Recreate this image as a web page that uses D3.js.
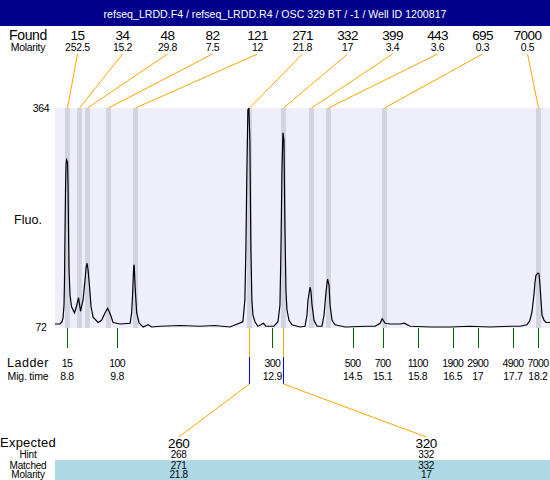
<!DOCTYPE html>
<html>
<head>
<meta charset="utf-8">
<script src="https://cdn.jsdelivr.net/npm/d3@7"></script>
<style>
  body { margin: 0; background: #fff; }
  svg { display: block; font-family: "Liberation Sans", Arial, sans-serif; }
</style>
</head>
<body>
<div id="wrapper"></div>
<script>
const title = "refseq_LRDD.F4 / refseq_LRDD.R4 / OSC 329 BT / -1 / Well ID 1200817";

// found peaks (size, molarity, migration time)
const foundSizes = [15, 34, 48, 82, 121, 271, 332, 399, 443, 695, 7000];
const foundMolarity = [252.5, 15.2, 29.8, 7.5, 12, 21.8, 17, 3.4, 3.6, 0.3, 0.5];
const foundTimes = [8.79, 9.03, 9.19, 9.61, 10.15, 12.43, 13.12, 13.66, 14.0, 15.12, 18.2];

// ladder
const ladderSizes = [15, 100, 300, 500, 700, 1100, 1900, 2900, 4900, 7000];
const ladderTimes = [8.8, 9.8, 12.9, 14.5, 15.1, 15.8, 16.5, 17, 17.7, 18.2];

// expected fragments
const expectedSizes = [260, 320];
const hintSizes = [268, 332];
const matchedSizes = [271, 332];
const matchedMolarity = [21.8, 17];
const matchedTimes = [12.43, 13.12];

// electropherogram trace (migration time s, fluorescence)
const traceTime = [8.56, 8.66, 8.70, 8.72, 8.74, 8.75, 8.76, 8.77, 8.78, 8.79, 8.81, 8.82, 8.83, 8.84, 8.86,
  8.89, 8.95, 8.99, 9.03, 9.07, 9.12, 9.16, 9.18, 9.20, 9.22, 9.25, 9.28, 9.32, 9.42, 9.49, 9.56, 9.61,
  9.67, 9.72, 9.86, 10.06, 10.09, 10.11, 10.13, 10.14, 10.16, 10.19, 10.24, 10.32, 10.42, 10.49, 10.66,
  11.06, 11.45, 11.75, 12.05, 12.31, 12.35, 12.37, 12.39, 12.41, 12.43, 12.45, 12.47, 12.49, 12.51, 12.55,
  12.61, 12.67, 12.72, 12.77, 12.85, 12.93, 13.01, 13.05, 13.07, 13.09, 13.11, 13.13, 13.15, 13.17, 13.19,
  13.23, 13.29, 13.45, 13.55, 13.59, 13.61, 13.65, 13.67, 13.69, 13.73, 13.79, 13.89, 13.93, 13.97, 14.0,
  14.03, 14.05, 14.09, 14.15, 14.35, 14.79, 14.95, 15.05, 15.09, 15.15, 15.25, 15.45, 15.53, 15.65, 16.05,
  16.45, 16.84, 17.24, 17.64, 17.84, 17.98, 18.04, 18.08, 18.12, 18.14, 18.16, 18.2, 18.22, 18.24, 18.26,
  18.28, 18.32, 18.36, 18.44];
const traceFluo = [76, 76, 79, 84, 101, 135, 201, 255, 288, 295, 292, 261, 201, 148, 115,
  99, 91, 100, 111, 93, 108, 135, 151, 157, 148, 125, 99, 85, 78, 81, 91, 97,
  88, 78, 76, 77, 91, 117, 152, 155, 125, 91, 77, 72, 75, 72, 73,
  74, 73, 74, 72, 79, 108, 175, 281, 361, 364, 321, 175, 108, 88, 79,
  73, 75, 77, 73, 73, 73, 79, 101, 175, 281, 331, 321, 201, 120, 95,
  81, 75, 72, 73, 88, 108, 125, 119, 101, 81, 73, 73, 88, 119, 136,
  128, 101, 81, 75, 72, 73, 73, 77, 83, 77, 76, 76, 77, 73, 72,
  72, 73, 72, 73, 73, 75, 81, 92, 115, 131, 141, 144, 143, 128, 108,
  88, 81, 78, 78];

const yTicks = [72, 364];

const width = 550, height = 480;
const plot = { left: 55, right: 550, top: 108, bottom: 328 };

const svg = d3.select("#wrapper").append("svg")
  .attr("width", width)
  .attr("height", height);

// header
svg.append("rect").attr("x", 0).attr("y", 0).attr("width", width).attr("height", 26).attr("fill", "#00008b");
svg.append("text").attr("x", width / 2).attr("y", 17.5).attr("text-anchor", "middle")
  .attr("fill", "#fff").attr("font-size", 10.6).text(title);

// scales
const xScale = d3.scaleLinear().domain([8.56, 18.44]).range([plot.left, plot.right]);
const yScale = d3.scaleLinear().domain([72, 364]).range([327, plot.top]);
const foundScale = d3.scaleBand().domain(d3.range(foundSizes.length)).range([plot.left, plot.right]);
const expScale = d3.scaleBand().domain(d3.range(expectedSizes.length)).range([plot.left, plot.right]);
// pixel-snapped x for vertical 1px lines
const xPix = t => Math.round(xScale(t)) + 0.5;

const labelX = 28;
const leftLabel = (txt, y, size, extra) => {
  const t = svg.append("text").attr("x", labelX).attr("y", y).attr("text-anchor", "middle")
    .attr("font-size", size).attr("fill", "#000").text(txt);
  if (extra) t.attr("letter-spacing", extra);
  return t;
};

// found row
leftLabel("Found", 40, 14, -0.3);
leftLabel("Molarity", 51, 10.5, -0.3);
svg.append("g").selectAll("text").data(foundSizes).join("text")
  .attr("x", (d, i) => foundScale(i) + foundScale.bandwidth() / 2)
  .attr("y", 40).attr("text-anchor", "middle").attr("font-size", 13.5)
  .attr("letter-spacing", -0.6).text(d => d);
svg.append("g").selectAll("text").data(foundMolarity).join("text")
  .attr("x", (d, i) => foundScale(i) + foundScale.bandwidth() / 2)
  .attr("y", 51).attr("text-anchor", "middle").attr("font-size", 10.5)
  .attr("letter-spacing", -0.3).text(d => d);

// plot background
svg.append("rect").attr("x", plot.left).attr("y", plot.top)
  .attr("width", plot.right - plot.left).attr("height", plot.bottom - plot.top)
  .attr("fill", "#efeffc");

// peak bands
svg.append("g").selectAll("rect").data(foundTimes).join("rect")
  .attr("x", d => Math.round(xScale(d)) - 2).attr("width", 5)
  .attr("y", plot.top).attr("height", plot.bottom - plot.top)
  .attr("fill", "#d4d4e0");

// connectors from found labels to peaks
svg.append("g").selectAll("line").data(foundTimes).join("line")
  .attr("x1", (d, i) => foundScale(i) + foundScale.bandwidth() / 2).attr("y1", 54)
  .attr("x2", d => xPix(d)).attr("y2", plot.top)
  .attr("stroke", "#ffa500").attr("stroke-width", 1);

// trace
const traceData = traceTime.map((t, i) => ({ t, f: traceFluo[i] }));
const lineGenerator = d3.line().x(d => xScale(d.t)).y(d => yScale(d.f));
svg.append("path").attr("d", lineGenerator(traceData))
  .attr("fill", "none").attr("stroke", "#000").attr("stroke-width", 1.2);

// y labels
svg.append("g").selectAll("text").data(yTicks).join("text")
  .attr("x", 41).attr("y", d => yScale(d) + 4).attr("text-anchor", "middle")
  .attr("font-size", 10.5).attr("letter-spacing", -0.3).text(d => d);
leftLabel("Fluo.", 224, 12.5);

// ladder
svg.append("g").selectAll("line").data(ladderTimes).join("line")
  .attr("x1", d => xPix(d)).attr("x2", d => xPix(d))
  .attr("y1", plot.bottom).attr("y2", 348)
  .attr("stroke", "#006400").attr("stroke-width", 1);
svg.append("g").selectAll("text").data(ladderSizes).join("text")
  .attr("x", (d, i) => xScale(ladderTimes[i])).attr("y", 367)
  .attr("text-anchor", "middle").attr("font-size", 10.5).attr("letter-spacing", -0.6).text(d => d);
svg.append("g").selectAll("text").data(ladderTimes).join("text")
  .attr("x", d => xScale(d)).attr("y", 380)
  .attr("text-anchor", "middle").attr("font-size", 10.5).attr("letter-spacing", -0.3).text(d => d);
leftLabel("Ladder", 367, 12.5, 0.5);
leftLabel("Mig. time", 380, 10.5, -0.2);

// expected connectors
const conn = svg.append("g");
matchedTimes.forEach((t, i) => {
  const x = xPix(t);
  const lx = expScale(i) + expScale.bandwidth() / 2;
  conn.append("line").attr("x1", x).attr("x2", x).attr("y1", plot.bottom).attr("y2", 357)
    .attr("stroke", "#ffa500");
  conn.append("line").attr("x1", x).attr("x2", x).attr("y1", 357).attr("y2", 384)
    .attr("stroke", "#0000ff");
  conn.append("line").attr("x1", x).attr("y1", 384).attr("x2", lx).attr("y2", 437)
    .attr("stroke", "#ffa500");
});

// matched band
svg.append("rect").attr("x", plot.left).attr("y", 460)
  .attr("width", plot.right - plot.left).attr("height", 20).attr("fill", "#add8e6");

leftLabel("Expected", 447, 13, 0.2);
leftLabel("Hint", 458, 10, -0.2);
leftLabel("Matched", 469, 10, -0.2);
leftLabel("Molarity", 478, 10, -0.2);

const expRows = [
  { vals: expectedSizes, y: 448, size: 13.5 },
  { vals: hintSizes, y: 458, size: 10 },
  { vals: matchedSizes, y: 469, size: 10 },
  { vals: matchedMolarity, y: 478, size: 10 },
];
expRows.forEach(row => {
  svg.append("g").selectAll("text").data(row.vals).join("text")
    .attr("x", (d, i) => expScale(i) + expScale.bandwidth() / 2)
    .attr("y", row.y).attr("text-anchor", "middle").attr("font-size", row.size)
    .attr("letter-spacing", -0.3).text(d => d);
});
</script>
</body>
</html>
